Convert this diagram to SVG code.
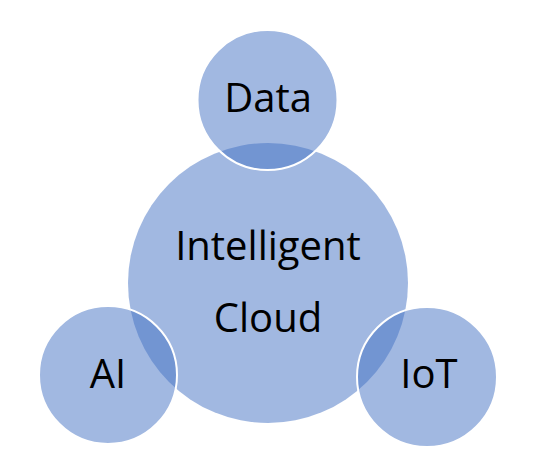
<svg xmlns="http://www.w3.org/2000/svg" width="534" height="476" viewBox="0 0 534 476">
<style>
.c{fill:#4472C4;fill-opacity:0.5}
.s{stroke:#FFFFFF;stroke-width:2}
.t{font-family:"Open Sans","Noto Sans",sans-serif;font-size:40px;fill:#000000;text-anchor:middle}
</style>
<rect width="534" height="476" fill="#FFFFFF"/>
<g id="cloud">
<circle class="c" cx="268" cy="283" r="140"/>
<text class="t" x="268" y="260">Intelligent</text>
<text class="t" x="268" y="332">Cloud</text>
</g>
<g id="data">
<circle class="c s" cx="267.5" cy="100" r="70"/>
<text class="t" x="268" y="112">Data</text>
</g>
<g id="ai">
<circle class="c s" cx="108" cy="375" r="69"/>
<text class="t" x="108" y="388">AI</text>
</g>
<g id="iot">
<circle class="c s" cx="427" cy="377" r="70"/>
<text class="t" x="429" y="388">IoT</text>
</g>
<g id="connectors"></g>
</svg>
